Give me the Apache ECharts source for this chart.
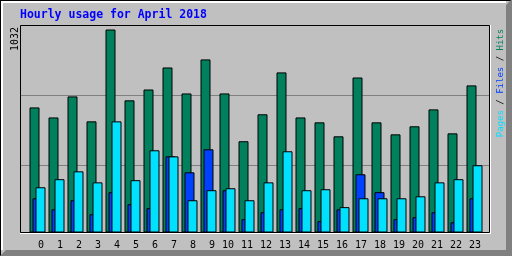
<!DOCTYPE html>
<html>
<head>
<meta charset="utf-8">
<script src="https://cdn.jsdelivr.net/npm/echarts@6/dist/echarts.min.js"></script>
<style>
html,body{margin:0;padding:0;background:#c0c0c0;}
#chart{width:512px;height:256px;}
</style>
</head>
<body>
<div id="chart"></div>
<script>
const titleText = 'Hourly usage for April 2018';
const hours = ['0','1','2','3','4','5','6','7','8','9','10','11','12','13','14','15','16','17','18','19','20','21','22','23'];
const hits  = [636, 585, 692, 565, 1032, 672, 727, 839, 707, 880, 707, 464, 601, 814, 585, 560, 489, 788, 560, 499, 540, 626, 504, 748];
const files = [174, 118, 164, 93, 205, 144, 124, 387, 306, 423, 215, 68, 103, 118, 124, 58, 118, 296, 205, 68, 78, 103, 52, 174];
const pages = [230, 271, 311, 255, 565, 266, 418, 387, 164, 215, 225, 164, 255, 413, 215, 220, 129, 174, 174, 174, 184, 255, 271, 342];
const yTickLabels = ['1032'];
const legendNames = ['Pages', 'Files', 'Hits'];

const C_HITS = '#00805c', C_FILES = '#0040ff', C_PAGES = '#00e0ff';
const mono = 'DejaVu Sans Mono';

const chart = echarts.init(document.getElementById('chart'), null, {renderer: 'canvas'});

const barBase = {
  type: 'bar', xAxisIndex: 1, yAxisIndex: 1, barWidth: 10, barGap: '-70%',
  animation: false, silent: true
};

chart.setOption({
  animation: false,
  backgroundColor: '#c0c0c0',
  title: {
    text: titleText, left: 20, top: 9, padding: 0,
    textStyle: {color: '#0000ff', fontFamily: mono, fontWeight: 'bold', fontSize: 11.5}
  },
  grid: [
    {left: 20, top: 25, width: 470, height: 210, outerBoundsMode: 'none'},
    {left: 28, top: 25, width: 456, height: 207.5, outerBoundsMode: 'none'},
    {left: 34.5, top: 25, width: 456, height: 207, outerBoundsMode: 'none'}
  ],
  xAxis: [
    {gridIndex: 0, type: 'value', min: 0, max: 1, show: false},
    {gridIndex: 1, type: 'category', data: hours, show: false},
    {gridIndex: 2, type: 'category', data: hours,
     axisLine: {show: false}, axisTick: {show: false}, splitLine: {show: false},
     axisLabel: {interval: 0, align: 'right', margin: 8, fontSize: 10, fontFamily: mono, color: '#000'}}
  ],
  yAxis: [
    {gridIndex: 0, type: 'value', min: 0, max: 3, interval: 1,
     axisLine: {show: false}, axisTick: {show: false}, axisLabel: {show: false},
     splitLine: {show: true, showMinLine: false, showMaxLine: false, lineStyle: {color: '#808080', width: 1}}},
    {gridIndex: 1, type: 'value', min: 0, max: 1055, show: false, splitLine: {show: false}},
    {gridIndex: 2, type: 'value', min: 0, max: 1, show: false, splitLine: {show: false}}
  ],
  series: [
    Object.assign({}, barBase, {name: 'Hits', data: hits,
      itemStyle: {color: C_HITS, borderColor: '#000', borderWidth: 1}}),
    Object.assign({}, barBase, {name: 'Files', data: files,
      itemStyle: {color: C_FILES, borderColor: '#000', borderWidth: 1}}),
    Object.assign({}, barBase, {name: 'Pages', data: pages,
      itemStyle: {color: C_PAGES, borderColor: '#000', borderWidth: 1}})
  ],
  graphic: [
    // outer image border / shadow
    {type: 'rect', z: 50, silent: true, shape: {x: 0, y: 0, width: 512, height: 1}, style: {fill: '#000'}},
    {type: 'rect', z: 50, silent: true, shape: {x: 0, y: 0, width: 1, height: 256}, style: {fill: '#000'}},
    {type: 'rect', z: 50, silent: true, shape: {x: 1, y: 1, width: 505, height: 2}, style: {fill: '#fff'}},
    {type: 'rect', z: 50, silent: true, shape: {x: 1, y: 1, width: 2, height: 249}, style: {fill: '#fff'}},
    {type: 'polygon', z: 50, silent: true, shape: {points: [[506, 5], [511, 0], [512, 0], [512, 256], [506, 256]]}, style: {fill: '#808080'}},
    {type: 'polygon', z: 50, silent: true, shape: {points: [[0, 256], [6, 250], [512, 250], [512, 256]]}, style: {fill: '#808080'}},
    // plot frame
    {type: 'rect', z: 50, silent: true, shape: {x: 20.5, y: 25.5, width: 469, height: 207}, style: {fill: null, stroke: '#000', lineWidth: 1}},
    {type: 'line', z: 50, silent: true, shape: {x1: 20, y1: 233.5, x2: 491, y2: 233.5}, style: {stroke: '#fff', lineWidth: 1}},
    {type: 'line', z: 50, silent: true, shape: {x1: 490.5, y1: 25, x2: 490.5, y2: 234}, style: {stroke: '#fff', lineWidth: 1}},
    // y max label
    {type: 'text', z: 50, silent: true, x: 15.5, y: 39, rotation: Math.PI / 2,
     style: {text: yTickLabels[0], fontSize: 10, fontFamily: mono, fill: '#000', align: 'center', verticalAlign: 'middle'}},
    // legend (rotated)
    {type: 'text', z: 50, silent: true, x: 500.5, y: 83, rotation: Math.PI / 2,
     style: {
       text: '{p|' + legendNames[0] + '}{s| / }{f|' + legendNames[1] + '}{s| / }{h|' + legendNames[2] + '}',
       fontSize: 9, fontFamily: mono, align: 'center', verticalAlign: 'middle',
       rich: {
         p: {fill: C_PAGES, fontSize: 9, fontFamily: mono},
         f: {fill: C_FILES, fontSize: 9, fontFamily: mono},
         h: {fill: C_HITS, fontSize: 9, fontFamily: mono},
         s: {fill: '#000', fontSize: 9, fontFamily: mono}
       }
     }}
  ]
});
</script>
</body>
</html>
